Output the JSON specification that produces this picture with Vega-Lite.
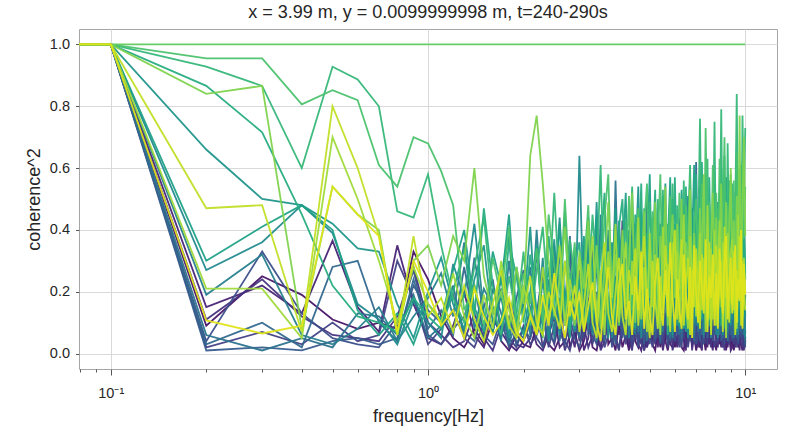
{
  "$schema": "https://vega.github.io/schema/vega-lite/v6.json",
  "autosize": {"type": "none"},
  "width": 698,
  "height": 340,
  "padding": {"left": 79, "top": 29, "right": 10, "bottom": 62},
  "background": "white",
  "config": {
    "font": "Liberation Sans",
    "view": {"stroke": "#a6a6a6", "strokeWidth": 1}
  },
  "title": {
    "text": "x = 3.99 m, y = 0.0099999998 m, t=240-290s",
    "fontSize": 18,
    "fontWeight": "normal",
    "color": "#262626",
    "font": "Liberation Sans",
    "offset": 7
  },
  "data": {"values": [
{"s":0,"f":0.05,"c":1},{"s":0,"f":0.1,"c":1},{"s":0,"f":0.2,"c":0.09},{"s":0,"f":0.3,"c":0.25},{"s":0,"f":0.4,"c":0.19},{"s":0,"f":0.5,"c":0.11},{"s":0,"f":0.6,"c":0.08},{"s":0,"f":0.7,"c":0.1},{"s":0,"f":0.8,"c":0.08},{"s":0,"f":0.9,"c":0.33},{"s":0,"f":1,"c":0.24},
{"s":0,"f":1.1,"c":0.12},{"s":0,"f":1.2,"c":0.05},{"s":0,"f":1.3,"c":0.02},{"s":0,"f":1.4,"c":0.08},{"s":0,"f":1.5,"c":0.03},{"s":0,"f":1.6,"c":0.15},{"s":0,"f":1.7,"c":0.04},{"s":0,"f":1.8,"c":0.01},{"s":0,"f":1.9,"c":0.06},{"s":0,"f":2,"c":0.03},
{"s":0,"f":2.1,"c":0.02},{"s":0,"f":2.2,"c":0.09},{"s":0,"f":2.3,"c":0.14},{"s":0,"f":2.4,"c":0.03},{"s":0,"f":2.5,"c":0.01},{"s":0,"f":2.6,"c":0.05},{"s":0,"f":2.7,"c":0.18},{"s":0,"f":2.8,"c":0.02},{"s":0,"f":2.9,"c":0.07},{"s":0,"f":3,"c":0.01},
{"s":0,"f":3.1,"c":0.04},{"s":0,"f":3.2,"c":0.12},{"s":0,"f":3.3,"c":0.02},{"s":0,"f":3.4,"c":0.01},{"s":0,"f":3.5,"c":0.08},{"s":0,"f":3.6,"c":0.22},{"s":0,"f":3.7,"c":0.03},{"s":0,"f":3.8,"c":0.05},{"s":0,"f":3.9,"c":0.01},{"s":0,"f":4,"c":0.1},
{"s":0,"f":4.1,"c":0.02},{"s":0,"f":4.2,"c":0.06},{"s":0,"f":4.3,"c":0.01},{"s":0,"f":4.4,"c":0.15},{"s":0,"f":4.5,"c":0.04},{"s":0,"f":4.6,"c":0.02},{"s":0,"f":4.7,"c":0.09},{"s":0,"f":4.8,"c":0.01},{"s":0,"f":4.9,"c":0.05},{"s":0,"f":5,"c":0.13},
{"s":0,"f":5.1,"c":0.03},{"s":0,"f":5.2,"c":0.01},{"s":0,"f":5.3,"c":0.07},{"s":0,"f":5.4,"c":0.02},{"s":0,"f":5.5,"c":0.11},{"s":0,"f":5.6,"c":0.04},{"s":0,"f":5.7,"c":0.01},{"s":0,"f":5.8,"c":0.06},{"s":0,"f":5.9,"c":0.18},{"s":0,"f":6,"c":0.02},
{"s":0,"f":6.1,"c":0.05},{"s":0,"f":6.2,"c":0.09},{"s":0,"f":6.3,"c":0.02},{"s":0,"f":6.4,"c":0.01},{"s":0,"f":6.5,"c":0.08},{"s":0,"f":6.6,"c":0.03},{"s":0,"f":6.7,"c":0.14},{"s":0,"f":6.8,"c":0.02},{"s":0,"f":6.9,"c":0.06},{"s":0,"f":7,"c":0.01},
{"s":0,"f":7.1,"c":0.04},{"s":0,"f":7.2,"c":0.02},{"s":0,"f":7.3,"c":0.1},{"s":0,"f":7.4,"c":0.05},{"s":0,"f":7.5,"c":0.01},{"s":0,"f":7.6,"c":0.07},{"s":0,"f":7.7,"c":0.03},{"s":0,"f":7.8,"c":0.16},{"s":0,"f":7.9,"c":0.02},{"s":0,"f":8,"c":0.04},
{"s":0,"f":8.1,"c":0.01},{"s":0,"f":8.2,"c":0.08},{"s":0,"f":8.3,"c":0.03},{"s":0,"f":8.4,"c":0.06},{"s":0,"f":8.5,"c":0.02},{"s":0,"f":8.6,"c":0.12},{"s":0,"f":8.7,"c":0.01},{"s":0,"f":8.8,"c":0.05},{"s":0,"f":8.9,"c":0.09},{"s":0,"f":9,"c":0.02},
{"s":0,"f":9.1,"c":0.06},{"s":0,"f":9.2,"c":0.01},{"s":0,"f":9.3,"c":0.04},{"s":0,"f":9.4,"c":0.11},{"s":0,"f":9.5,"c":0.02},{"s":0,"f":9.6,"c":0.07},{"s":0,"f":9.7,"c":0.03},{"s":0,"f":9.8,"c":0.01},{"s":0,"f":9.9,"c":0.08},{"s":0,"f":10,"c":0.05},

{"s":1,"f":0.05,"c":1},{"s":1,"f":0.1,"c":1},{"s":1,"f":0.2,"c":0.15},{"s":1,"f":0.3,"c":0.22},{"s":1,"f":0.4,"c":0.13},{"s":1,"f":0.5,"c":0.365},{"s":1,"f":0.6,"c":0.15},{"s":1,"f":0.7,"c":0.07},{"s":1,"f":0.8,"c":0.35},{"s":1,"f":0.9,"c":0.16},{"s":1,"f":1,"c":0.05},
{"s":1,"f":1.1,"c":0.03},{"s":1,"f":1.2,"c":0.09},{"s":1,"f":1.3,"c":0.2},{"s":1,"f":1.4,"c":0.06},{"s":1,"f":1.5,"c":0.02},{"s":1,"f":1.6,"c":0.11},{"s":1,"f":1.7,"c":0.07},{"s":1,"f":1.8,"c":0.03},{"s":1,"f":1.9,"c":0.01},{"s":1,"f":2,"c":0.04},
{"s":1,"f":2.1,"c":0.1},{"s":1,"f":2.2,"c":0.03},{"s":1,"f":2.3,"c":0.01},{"s":1,"f":2.4,"c":0.06},{"s":1,"f":2.5,"c":0.12},{"s":1,"f":2.6,"c":0.02},{"s":1,"f":2.7,"c":0.04},{"s":1,"f":2.8,"c":0.09},{"s":1,"f":2.9,"c":0.02},{"s":1,"f":3,"c":0.15},
{"s":1,"f":3.1,"c":0.01},{"s":1,"f":3.2,"c":0.05},{"s":1,"f":3.3,"c":0.19},{"s":1,"f":3.4,"c":0.04},{"s":1,"f":3.5,"c":0.02},{"s":1,"f":3.6,"c":0.07},{"s":1,"f":3.7,"c":0.13},{"s":1,"f":3.8,"c":0.03},{"s":1,"f":3.9,"c":0.25},{"s":1,"f":4,"c":0.06},
{"s":1,"f":4.1,"c":0.43},{"s":1,"f":4.2,"c":0.08},{"s":1,"f":4.3,"c":0.02},{"s":1,"f":4.4,"c":0.05},{"s":1,"f":4.5,"c":0.12},{"s":1,"f":4.6,"c":0.03},{"s":1,"f":4.7,"c":0.01},{"s":1,"f":4.8,"c":0.07},{"s":1,"f":4.9,"c":0.02},{"s":1,"f":5,"c":0.1},
{"s":1,"f":5.1,"c":0.04},{"s":1,"f":5.2,"c":0.15},{"s":1,"f":5.3,"c":0.02},{"s":1,"f":5.4,"c":0.09},{"s":1,"f":5.5,"c":0.01},{"s":1,"f":5.6,"c":0.06},{"s":1,"f":5.7,"c":0.21},{"s":1,"f":5.8,"c":0.03},{"s":1,"f":5.9,"c":0.02},{"s":1,"f":6,"c":0.08},
{"s":1,"f":6.1,"c":0.02},{"s":1,"f":6.2,"c":0.05},{"s":1,"f":6.3,"c":0.13},{"s":1,"f":6.4,"c":0.04},{"s":1,"f":6.5,"c":0.01},{"s":1,"f":6.6,"c":0.17},{"s":1,"f":6.7,"c":0.06},{"s":1,"f":6.8,"c":0.03},{"s":1,"f":6.9,"c":0.1},{"s":1,"f":7,"c":0.02},
{"s":1,"f":7.1,"c":0.08},{"s":1,"f":7.2,"c":0.03},{"s":1,"f":7.3,"c":0.01},{"s":1,"f":7.4,"c":0.12},{"s":1,"f":7.5,"c":0.06},{"s":1,"f":7.6,"c":0.02},{"s":1,"f":7.7,"c":0.09},{"s":1,"f":7.8,"c":0.04},{"s":1,"f":7.9,"c":0.01},{"s":1,"f":8,"c":0.14},
{"s":1,"f":8.1,"c":0.03},{"s":1,"f":8.2,"c":0.11},{"s":1,"f":8.3,"c":0.05},{"s":1,"f":8.4,"c":0.02},{"s":1,"f":8.5,"c":0.15},{"s":1,"f":8.6,"c":0.04},{"s":1,"f":8.7,"c":0.08},{"s":1,"f":8.8,"c":0.02},{"s":1,"f":8.9,"c":0.06},{"s":1,"f":9,"c":0.01},
{"s":1,"f":9.1,"c":0.02},{"s":1,"f":9.2,"c":0.09},{"s":1,"f":9.3,"c":0.13},{"s":1,"f":9.4,"c":0.03},{"s":1,"f":9.5,"c":0.05},{"s":1,"f":9.6,"c":0.01},{"s":1,"f":9.7,"c":0.1},{"s":1,"f":9.8,"c":0.04},{"s":1,"f":9.9,"c":0.02},{"s":1,"f":10,"c":0.07},

{"s":2,"f":0.05,"c":1},{"s":2,"f":0.1,"c":1},{"s":2,"f":0.2,"c":0.11},{"s":2,"f":0.3,"c":0.24},{"s":2,"f":0.4,"c":0.12},{"s":2,"f":0.5,"c":0.06},{"s":2,"f":0.6,"c":0.05},{"s":2,"f":0.7,"c":0.04},{"s":2,"f":0.8,"c":0.12},{"s":2,"f":0.9,"c":0.28},{"s":2,"f":1,"c":0.1},
{"s":2,"f":1.1,"c":0.06},{"s":2,"f":1.2,"c":0.02},{"s":2,"f":1.3,"c":0.04},{"s":2,"f":1.4,"c":0.13},{"s":2,"f":1.5,"c":0.05},{"s":2,"f":1.6,"c":0.01},{"s":2,"f":1.7,"c":0.09},{"s":2,"f":1.8,"c":0.17},{"s":2,"f":1.9,"c":0.03},{"s":2,"f":2,"c":0.02},
{"s":2,"f":2.1,"c":0.05},{"s":2,"f":2.2,"c":0.15},{"s":2,"f":2.3,"c":0.02},{"s":2,"f":2.4,"c":0.08},{"s":2,"f":2.5,"c":0.03},{"s":2,"f":2.6,"c":0.11},{"s":2,"f":2.7,"c":0.01},{"s":2,"f":2.8,"c":0.06},{"s":2,"f":2.9,"c":0.2},{"s":2,"f":3,"c":0.04},
{"s":2,"f":3.1,"c":0.09},{"s":2,"f":3.2,"c":0.02},{"s":2,"f":3.3,"c":0.06},{"s":2,"f":3.4,"c":0.14},{"s":2,"f":3.5,"c":0.01},{"s":2,"f":3.6,"c":0.04},{"s":2,"f":3.7,"c":0.1},{"s":2,"f":3.8,"c":0.33},{"s":2,"f":3.9,"c":0.05},{"s":2,"f":4,"c":0.02},
{"s":2,"f":4.1,"c":0.07},{"s":2,"f":4.2,"c":0.12},{"s":2,"f":4.3,"c":0.04},{"s":2,"f":4.4,"c":0.01},{"s":2,"f":4.5,"c":0.19},{"s":2,"f":4.6,"c":0.06},{"s":2,"f":4.7,"c":0.03},{"s":2,"f":4.8,"c":0.11},{"s":2,"f":4.9,"c":0.02},{"s":2,"f":5,"c":0.05},
{"s":2,"f":5.1,"c":0.1},{"s":2,"f":5.2,"c":0.03},{"s":2,"f":5.3,"c":0.14},{"s":2,"f":5.4,"c":0.05},{"s":2,"f":5.5,"c":0.02},{"s":2,"f":5.6,"c":0.09},{"s":2,"f":5.7,"c":0.04},{"s":2,"f":5.8,"c":0.12},{"s":2,"f":5.9,"c":0.01},{"s":2,"f":6,"c":0.06},
{"s":2,"f":6.1,"c":0.03},{"s":2,"f":6.2,"c":0.16},{"s":2,"f":6.3,"c":0.06},{"s":2,"f":6.4,"c":0.09},{"s":2,"f":6.5,"c":0.02},{"s":2,"f":6.6,"c":0.05},{"s":2,"f":6.7,"c":0.11},{"s":2,"f":6.8,"c":0.01},{"s":2,"f":6.9,"c":0.08},{"s":2,"f":7,"c":0.13},
{"s":2,"f":7.1,"c":0.02},{"s":2,"f":7.2,"c":0.07},{"s":2,"f":7.3,"c":0.04},{"s":2,"f":7.4,"c":0.19},{"s":2,"f":7.5,"c":0.03},{"s":2,"f":7.6,"c":0.1},{"s":2,"f":7.7,"c":0.05},{"s":2,"f":7.8,"c":0.02},{"s":2,"f":7.9,"c":0.12},{"s":2,"f":8,"c":0.06},
{"s":2,"f":8.1,"c":0.09},{"s":2,"f":8.2,"c":0.02},{"s":2,"f":8.3,"c":0.14},{"s":2,"f":8.4,"c":0.04},{"s":2,"f":8.5,"c":0.07},{"s":2,"f":8.6,"c":0.01},{"s":2,"f":8.7,"c":0.1},{"s":2,"f":8.8,"c":0.03},{"s":2,"f":8.9,"c":0.16},{"s":2,"f":9,"c":0.04},
{"s":2,"f":9.1,"c":0.05},{"s":2,"f":9.2,"c":0.12},{"s":2,"f":9.3,"c":0.02},{"s":2,"f":9.4,"c":0.08},{"s":2,"f":9.5,"c":0.15},{"s":2,"f":9.6,"c":0.03},{"s":2,"f":9.7,"c":0.06},{"s":2,"f":9.8,"c":0.11},{"s":2,"f":9.9,"c":0.01},{"s":2,"f":10,"c":0.04},

{"s":3,"f":0.05,"c":1},{"s":3,"f":0.1,"c":1},{"s":3,"f":0.2,"c":0.02},{"s":3,"f":0.3,"c":0.07},{"s":3,"f":0.4,"c":0.03},{"s":3,"f":0.5,"c":0.1},{"s":3,"f":0.6,"c":0.04},{"s":3,"f":0.7,"c":0.06},{"s":3,"f":0.8,"c":0.3},{"s":3,"f":0.9,"c":0.18},{"s":3,"f":1,"c":0.03},
{"s":3,"f":1.1,"c":0.08},{"s":3,"f":1.2,"c":0.14},{"s":3,"f":1.3,"c":0.05},{"s":3,"f":1.4,"c":0.02},{"s":3,"f":1.5,"c":0.1},{"s":3,"f":1.6,"c":0.07},{"s":3,"f":1.7,"c":0.21},{"s":3,"f":1.8,"c":0.05},{"s":3,"f":1.9,"c":0.02},{"s":3,"f":2,"c":0.09},
{"s":3,"f":2.1,"c":0.03},{"s":3,"f":2.2,"c":0.06},{"s":3,"f":2.3,"c":0.12},{"s":3,"f":2.4,"c":0.02},{"s":3,"f":2.5,"c":0.09},{"s":3,"f":2.6,"c":0.16},{"s":3,"f":2.7,"c":0.04},{"s":3,"f":2.8,"c":0.01},{"s":3,"f":2.9,"c":0.08},{"s":3,"f":3,"c":0.27},
{"s":3,"f":3.1,"c":0.05},{"s":3,"f":3.2,"c":0.18},{"s":3,"f":3.3,"c":0.03},{"s":3,"f":3.4,"c":0.09},{"s":3,"f":3.5,"c":0.12},{"s":3,"f":3.6,"c":0.02},{"s":3,"f":3.7,"c":0.06},{"s":3,"f":3.8,"c":0.15},{"s":3,"f":3.9,"c":0.04},{"s":3,"f":4,"c":0.01},
{"s":3,"f":4.1,"c":0.12},{"s":3,"f":4.2,"c":0.03},{"s":3,"f":4.3,"c":0.08},{"s":3,"f":4.4,"c":0.02},{"s":3,"f":4.5,"c":0.06},{"s":3,"f":4.6,"c":0.22},{"s":3,"f":4.7,"c":0.04},{"s":3,"f":4.8,"c":0.01},{"s":3,"f":4.9,"c":0.13},{"s":3,"f":5,"c":0.07},
{"s":3,"f":5.1,"c":0.02},{"s":3,"f":5.2,"c":0.09},{"s":3,"f":5.3,"c":0.05},{"s":3,"f":5.4,"c":0.16},{"s":3,"f":5.5,"c":0.03},{"s":3,"f":5.6,"c":0.11},{"s":3,"f":5.7,"c":0.02},{"s":3,"f":5.8,"c":0.07},{"s":3,"f":5.9,"c":0.04},{"s":3,"f":6,"c":0.2},
{"s":3,"f":6.1,"c":0.08},{"s":3,"f":6.2,"c":0.02},{"s":3,"f":6.3,"c":0.11},{"s":3,"f":6.4,"c":0.05},{"s":3,"f":6.5,"c":0.15},{"s":3,"f":6.6,"c":0.02},{"s":3,"f":6.7,"c":0.07},{"s":3,"f":6.8,"c":0.19},{"s":3,"f":6.9,"c":0.03},{"s":3,"f":7,"c":0.06},
{"s":3,"f":7.1,"c":0.12},{"s":3,"f":7.2,"c":0.05},{"s":3,"f":7.3,"c":0.02},{"s":3,"f":7.4,"c":0.08},{"s":3,"f":7.5,"c":0.14},{"s":3,"f":7.6,"c":0.03},{"s":3,"f":7.7,"c":0.21},{"s":3,"f":7.8,"c":0.06},{"s":3,"f":7.9,"c":0.09},{"s":3,"f":8,"c":0.02},
{"s":3,"f":8.1,"c":0.04},{"s":3,"f":8.2,"c":0.17},{"s":3,"f":8.3,"c":0.06},{"s":3,"f":8.4,"c":0.11},{"s":3,"f":8.5,"c":0.02},{"s":3,"f":8.6,"c":0.09},{"s":3,"f":8.7,"c":0.05},{"s":3,"f":8.8,"c":0.14},{"s":3,"f":8.9,"c":0.03},{"s":3,"f":9,"c":0.08},
{"s":3,"f":9.1,"c":0.1},{"s":3,"f":9.2,"c":0.03},{"s":3,"f":9.3,"c":0.07},{"s":3,"f":9.4,"c":0.02},{"s":3,"f":9.5,"c":0.12},{"s":3,"f":9.6,"c":0.06},{"s":3,"f":9.7,"c":0.17},{"s":3,"f":9.8,"c":0.02},{"s":3,"f":9.9,"c":0.09},{"s":3,"f":10,"c":0.05},

{"s":4,"f":0.05,"c":1},{"s":4,"f":0.1,"c":1},{"s":4,"f":0.2,"c":0.04},{"s":4,"f":0.3,"c":0.33},{"s":4,"f":0.4,"c":0.13},{"s":4,"f":0.5,"c":0.05},{"s":4,"f":0.6,"c":0.03},{"s":4,"f":0.7,"c":0.02},{"s":4,"f":0.8,"c":0.1},{"s":4,"f":0.9,"c":0.27},{"s":4,"f":1,"c":0.06},
{"s":4,"f":1.1,"c":0.03},{"s":4,"f":1.2,"c":0.08},{"s":4,"f":1.3,"c":0.12},{"s":4,"f":1.4,"c":0.22},{"s":4,"f":1.5,"c":0.06},{"s":4,"f":1.6,"c":0.03},{"s":4,"f":1.7,"c":0.11},{"s":4,"f":1.8,"c":0.02},{"s":4,"f":1.9,"c":0.07},{"s":4,"f":2,"c":0.05},
{"s":4,"f":2.1,"c":0.14},{"s":4,"f":2.2,"c":0.05},{"s":4,"f":2.3,"c":0.02},{"s":4,"f":2.4,"c":0.1},{"s":4,"f":2.5,"c":0.3},{"s":4,"f":2.6,"c":0.07},{"s":4,"f":2.7,"c":0.03},{"s":4,"f":2.8,"c":0.12},{"s":4,"f":2.9,"c":0.05},{"s":4,"f":3,"c":0.02},
{"s":4,"f":3.1,"c":0.08},{"s":4,"f":3.2,"c":0.24},{"s":4,"f":3.3,"c":0.06},{"s":4,"f":3.4,"c":0.03},{"s":4,"f":3.5,"c":0.13},{"s":4,"f":3.6,"c":0.05},{"s":4,"f":3.7,"c":0.18},{"s":4,"f":3.8,"c":0.02},{"s":4,"f":3.9,"c":0.09},{"s":4,"f":4,"c":0.14},
{"s":4,"f":4.1,"c":0.05},{"s":4,"f":4.2,"c":0.1},{"s":4,"f":4.3,"c":0.27},{"s":4,"f":4.4,"c":0.04},{"s":4,"f":4.5,"c":0.09},{"s":4,"f":4.6,"c":0.02},{"s":4,"f":4.7,"c":0.16},{"s":4,"f":4.8,"c":0.06},{"s":4,"f":4.9,"c":0.23},{"s":4,"f":5,"c":0.03},
{"s":4,"f":5.1,"c":0.11},{"s":4,"f":5.2,"c":0.04},{"s":4,"f":5.3,"c":0.08},{"s":4,"f":5.4,"c":0.2},{"s":4,"f":5.5,"c":0.06},{"s":4,"f":5.6,"c":0.13},{"s":4,"f":5.7,"c":0.03},{"s":4,"f":5.8,"c":0.26},{"s":4,"f":5.9,"c":0.07},{"s":4,"f":6,"c":0.04},
{"s":4,"f":6.1,"c":0.17},{"s":4,"f":6.2,"c":0.06},{"s":4,"f":6.3,"c":0.02},{"s":4,"f":6.4,"c":0.12},{"s":4,"f":6.5,"c":0.07},{"s":4,"f":6.6,"c":0.24},{"s":4,"f":6.7,"c":0.04},{"s":4,"f":6.8,"c":0.09},{"s":4,"f":6.9,"c":0.15},{"s":4,"f":7,"c":0.03},
{"s":4,"f":7.1,"c":0.06},{"s":4,"f":7.2,"c":0.22},{"s":4,"f":7.3,"c":0.09},{"s":4,"f":7.4,"c":0.03},{"s":4,"f":7.5,"c":0.18},{"s":4,"f":7.6,"c":0.05},{"s":4,"f":7.7,"c":0.11},{"s":4,"f":7.8,"c":0.28},{"s":4,"f":7.9,"c":0.04},{"s":4,"f":8,"c":0.13},
{"s":4,"f":8.1,"c":0.2},{"s":4,"f":8.2,"c":0.04},{"s":4,"f":8.3,"c":0.12},{"s":4,"f":8.4,"c":0.07},{"s":4,"f":8.5,"c":0.25},{"s":4,"f":8.6,"c":0.03},{"s":4,"f":8.7,"c":0.15},{"s":4,"f":8.8,"c":0.06},{"s":4,"f":8.9,"c":0.1},{"s":4,"f":9,"c":0.32},
{"s":4,"f":9.1,"c":0.04},{"s":4,"f":9.2,"c":0.14},{"s":4,"f":9.3,"c":0.06},{"s":4,"f":9.4,"c":0.21},{"s":4,"f":9.5,"c":0.03},{"s":4,"f":9.6,"c":0.11},{"s":4,"f":9.7,"c":0.05},{"s":4,"f":9.8,"c":0.18},{"s":4,"f":9.9,"c":0.08},{"s":4,"f":10,"c":0.02},

{"s":5,"f":0.05,"c":1},{"s":5,"f":0.1,"c":1},{"s":5,"f":0.2,"c":0.01},{"s":5,"f":0.3,"c":0.02},{"s":5,"f":0.4,"c":0.01},{"s":5,"f":0.5,"c":0.04},{"s":5,"f":0.6,"c":0.05},{"s":5,"f":0.7,"c":0.03},{"s":5,"f":0.8,"c":0.05},{"s":5,"f":0.9,"c":0.22},{"s":5,"f":1,"c":0.14},
{"s":5,"f":1.1,"c":0.1},{"s":5,"f":1.2,"c":0.19},{"s":5,"f":1.3,"c":0.07},{"s":5,"f":1.4,"c":0.04},{"s":5,"f":1.5,"c":0.15},{"s":5,"f":1.6,"c":0.24},{"s":5,"f":1.7,"c":0.06},{"s":5,"f":1.8,"c":0.12},{"s":5,"f":1.9,"c":0.03},{"s":5,"f":2,"c":0.08},
{"s":5,"f":2.1,"c":0.05},{"s":5,"f":2.2,"c":0.13},{"s":5,"f":2.3,"c":0.26},{"s":5,"f":2.4,"c":0.06},{"s":5,"f":2.5,"c":0.04},{"s":5,"f":2.6,"c":0.18},{"s":5,"f":2.7,"c":0.09},{"s":5,"f":2.8,"c":0.33},{"s":5,"f":2.9,"c":0.07},{"s":5,"f":3,"c":0.12},
{"s":5,"f":3.1,"c":0.3},{"s":5,"f":3.2,"c":0.06},{"s":5,"f":3.3,"c":0.11},{"s":5,"f":3.4,"c":0.2},{"s":5,"f":3.5,"c":0.04},{"s":5,"f":3.6,"c":0.27},{"s":5,"f":3.7,"c":0.08},{"s":5,"f":3.8,"c":0.13},{"s":5,"f":3.9,"c":0.03},{"s":5,"f":4,"c":0.19},
{"s":5,"f":4.1,"c":0.07},{"s":5,"f":4.2,"c":0.25},{"s":5,"f":4.3,"c":0.05},{"s":5,"f":4.4,"c":0.14},{"s":5,"f":4.5,"c":0.31},{"s":5,"f":4.6,"c":0.06},{"s":5,"f":4.7,"c":0.1},{"s":5,"f":4.8,"c":0.03},{"s":5,"f":4.9,"c":0.18},{"s":5,"f":5,"c":0.08},
{"s":5,"f":5.1,"c":0.22},{"s":5,"f":5.2,"c":0.05},{"s":5,"f":5.3,"c":0.12},{"s":5,"f":5.4,"c":0.03},{"s":5,"f":5.5,"c":0.28},{"s":5,"f":5.6,"c":0.09},{"s":5,"f":5.7,"c":0.16},{"s":5,"f":5.8,"c":0.04},{"s":5,"f":5.9,"c":0.11},{"s":5,"f":6,"c":0.33},
{"s":5,"f":6.1,"c":0.06},{"s":5,"f":6.2,"c":0.19},{"s":5,"f":6.3,"c":0.04},{"s":5,"f":6.4,"c":0.27},{"s":5,"f":6.5,"c":0.08},{"s":5,"f":6.6,"c":0.14},{"s":5,"f":6.7,"c":0.36},{"s":5,"f":6.8,"c":0.05},{"s":5,"f":6.9,"c":0.12},{"s":5,"f":7,"c":0.21},
{"s":5,"f":7.1,"c":0.1},{"s":5,"f":7.2,"c":0.04},{"s":5,"f":7.3,"c":0.25},{"s":5,"f":7.4,"c":0.07},{"s":5,"f":7.5,"c":0.33},{"s":5,"f":7.6,"c":0.05},{"s":5,"f":7.7,"c":0.15},{"s":5,"f":7.8,"c":0.09},{"s":5,"f":7.9,"c":0.3},{"s":5,"f":8,"c":0.06},
{"s":5,"f":8.1,"c":0.18},{"s":5,"f":8.2,"c":0.07},{"s":5,"f":8.3,"c":0.29},{"s":5,"f":8.4,"c":0.04},{"s":5,"f":8.5,"c":0.13},{"s":5,"f":8.6,"c":0.38},{"s":5,"f":8.7,"c":0.06},{"s":5,"f":8.8,"c":0.22},{"s":5,"f":8.9,"c":0.08},{"s":5,"f":9,"c":0.15},
{"s":5,"f":9.1,"c":0.05},{"s":5,"f":9.2,"c":0.27},{"s":5,"f":9.3,"c":0.09},{"s":5,"f":9.4,"c":0.16},{"s":5,"f":9.5,"c":0.04},{"s":5,"f":9.6,"c":0.31},{"s":5,"f":9.7,"c":0.12},{"s":5,"f":9.8,"c":0.06},{"s":5,"f":9.9,"c":0.24},{"s":5,"f":10,"c":0.03},

{"s":6,"f":0.05,"c":1},{"s":6,"f":0.1,"c":1},{"s":6,"f":0.2,"c":0.03},{"s":6,"f":0.3,"c":0.1},{"s":6,"f":0.4,"c":0.02},{"s":6,"f":0.5,"c":0.28},{"s":6,"f":0.6,"c":0.3},{"s":6,"f":0.7,"c":0.1},{"s":6,"f":0.8,"c":0.04},{"s":6,"f":0.9,"c":0.24},{"s":6,"f":1,"c":0.08},
{"s":6,"f":1.1,"c":0.14},{"s":6,"f":1.2,"c":0.06},{"s":6,"f":1.3,"c":0.28},{"s":6,"f":1.4,"c":0.1},{"s":6,"f":1.5,"c":0.05},{"s":6,"f":1.6,"c":0.21},{"s":6,"f":1.7,"c":0.13},{"s":6,"f":1.8,"c":0.04},{"s":6,"f":1.9,"c":0.18},{"s":6,"f":2,"c":0.27},
{"s":6,"f":2.1,"c":0.09},{"s":6,"f":2.2,"c":0.33},{"s":6,"f":2.3,"c":0.12},{"s":6,"f":2.4,"c":0.04},{"s":6,"f":2.5,"c":0.22},{"s":6,"f":2.6,"c":0.07},{"s":6,"f":2.7,"c":0.15},{"s":6,"f":2.8,"c":0.38},{"s":6,"f":2.9,"c":0.1},{"s":6,"f":3,"c":0.05},
{"s":6,"f":3.1,"c":0.21},{"s":6,"f":3.2,"c":0.12},{"s":6,"f":3.3,"c":0.35},{"s":6,"f":3.4,"c":0.07},{"s":6,"f":3.5,"c":0.16},{"s":6,"f":3.6,"c":0.04},{"s":6,"f":3.7,"c":0.28},{"s":6,"f":3.8,"c":0.11},{"s":6,"f":3.9,"c":0.42},{"s":6,"f":4,"c":0.09},
{"s":6,"f":4.1,"c":0.13},{"s":6,"f":4.2,"c":0.05},{"s":6,"f":4.3,"c":0.24},{"s":6,"f":4.4,"c":0.38},{"s":6,"f":4.5,"c":0.08},{"s":6,"f":4.6,"c":0.17},{"s":6,"f":4.7,"c":0.45},{"s":6,"f":4.8,"c":0.06},{"s":6,"f":4.9,"c":0.22},{"s":6,"f":5,"c":0.11},
{"s":6,"f":5.1,"c":0.32},{"s":6,"f":5.2,"c":0.07},{"s":6,"f":5.3,"c":0.19},{"s":6,"f":5.4,"c":0.04},{"s":6,"f":5.5,"c":0.27},{"s":6,"f":5.6,"c":0.4},{"s":6,"f":5.7,"c":0.09},{"s":6,"f":5.8,"c":0.15},{"s":6,"f":5.9,"c":0.06},{"s":6,"f":6,"c":0.34},
{"s":6,"f":6.1,"c":0.1},{"s":6,"f":6.2,"c":0.25},{"s":6,"f":6.3,"c":0.05},{"s":6,"f":6.4,"c":0.37},{"s":6,"f":6.5,"c":0.13},{"s":6,"f":6.6,"c":0.07},{"s":6,"f":6.7,"c":0.29},{"s":6,"f":6.8,"c":0.18},{"s":6,"f":6.9,"c":0.04},{"s":6,"f":7,"c":0.62},
{"s":6,"f":7.1,"c":0.12},{"s":6,"f":7.2,"c":0.3},{"s":6,"f":7.3,"c":0.06},{"s":6,"f":7.4,"c":0.21},{"s":6,"f":7.5,"c":0.44},{"s":6,"f":7.6,"c":0.08},{"s":6,"f":7.7,"c":0.16},{"s":6,"f":7.8,"c":0.05},{"s":6,"f":7.9,"c":0.35},{"s":6,"f":8,"c":0.11},
{"s":6,"f":8.1,"c":0.24},{"s":6,"f":8.2,"c":0.07},{"s":6,"f":8.3,"c":0.39},{"s":6,"f":8.4,"c":0.13},{"s":6,"f":8.5,"c":0.05},{"s":6,"f":8.6,"c":0.28},{"s":6,"f":8.7,"c":0.48},{"s":6,"f":8.8,"c":0.09},{"s":6,"f":8.9,"c":0.17},{"s":6,"f":9,"c":0.06},
{"s":6,"f":9.1,"c":0.31},{"s":6,"f":9.2,"c":0.1},{"s":6,"f":9.3,"c":0.22},{"s":6,"f":9.4,"c":0.05},{"s":6,"f":9.5,"c":0.36},{"s":6,"f":9.6,"c":0.14},{"s":6,"f":9.7,"c":0.07},{"s":6,"f":9.8,"c":0.26},{"s":6,"f":9.9,"c":0.09},{"s":6,"f":10,"c":0.04},

{"s":7,"f":0.05,"c":1},{"s":7,"f":0.1,"c":1},{"s":7,"f":0.2,"c":0.06},{"s":7,"f":0.3,"c":0.01},{"s":7,"f":0.4,"c":0.05},{"s":7,"f":0.5,"c":0.02},{"s":7,"f":0.6,"c":0.13},{"s":7,"f":0.7,"c":0.12},{"s":7,"f":0.8,"c":0.06},{"s":7,"f":0.9,"c":0.19},{"s":7,"f":1,"c":0.05},
{"s":7,"f":1.1,"c":0.09},{"s":7,"f":1.2,"c":0.22},{"s":7,"f":1.3,"c":0.05},{"s":7,"f":1.4,"c":0.31},{"s":7,"f":1.5,"c":0.12},{"s":7,"f":1.6,"c":0.07},{"s":7,"f":1.7,"c":0.19},{"s":7,"f":1.8,"c":0.03},{"s":7,"f":1.9,"c":0.11},{"s":7,"f":2,"c":0.16},
{"s":7,"f":2.1,"c":0.28},{"s":7,"f":2.2,"c":0.06},{"s":7,"f":2.3,"c":0.14},{"s":7,"f":2.4,"c":0.09},{"s":7,"f":2.5,"c":0.35},{"s":7,"f":2.6,"c":0.04},{"s":7,"f":2.7,"c":0.2},{"s":7,"f":2.8,"c":0.08},{"s":7,"f":2.9,"c":0.31},{"s":7,"f":3,"c":0.13},
{"s":7,"f":3.1,"c":0.07},{"s":7,"f":3.2,"c":0.26},{"s":7,"f":3.3,"c":0.1},{"s":7,"f":3.4,"c":0.41},{"s":7,"f":3.5,"c":0.05},{"s":7,"f":3.6,"c":0.18},{"s":7,"f":3.7,"c":0.33},{"s":7,"f":3.8,"c":0.06},{"s":7,"f":3.9,"c":0.56},{"s":7,"f":4,"c":0.12},
{"s":7,"f":4.1,"c":0.23},{"s":7,"f":4.2,"c":0.08},{"s":7,"f":4.3,"c":0.37},{"s":7,"f":4.4,"c":0.14},{"s":7,"f":4.5,"c":0.06},{"s":7,"f":4.6,"c":0.29},{"s":7,"f":4.7,"c":0.1},{"s":7,"f":4.8,"c":0.21},{"s":7,"f":4.9,"c":0.04},{"s":7,"f":5,"c":0.33},
{"s":7,"f":5.1,"c":0.09},{"s":7,"f":5.2,"c":0.26},{"s":7,"f":5.3,"c":0.13},{"s":7,"f":5.4,"c":0.42},{"s":7,"f":5.5,"c":0.07},{"s":7,"f":5.6,"c":0.19},{"s":7,"f":5.7,"c":0.35},{"s":7,"f":5.8,"c":0.05},{"s":7,"f":5.9,"c":0.24},{"s":7,"f":6,"c":0.11},
{"s":7,"f":6.1,"c":0.38},{"s":7,"f":6.2,"c":0.06},{"s":7,"f":6.3,"c":0.22},{"s":7,"f":6.4,"c":0.12},{"s":7,"f":6.5,"c":0.47},{"s":7,"f":6.6,"c":0.08},{"s":7,"f":6.7,"c":0.17},{"s":7,"f":6.8,"c":0.3},{"s":7,"f":6.9,"c":0.06},{"s":7,"f":7,"c":0.25},
{"s":7,"f":7.1,"c":0.07},{"s":7,"f":7.2,"c":0.43},{"s":7,"f":7.3,"c":0.15},{"s":7,"f":7.4,"c":0.05},{"s":7,"f":7.5,"c":0.27},{"s":7,"f":7.6,"c":0.12},{"s":7,"f":7.7,"c":0.39},{"s":7,"f":7.8,"c":0.08},{"s":7,"f":7.9,"c":0.2},{"s":7,"f":8,"c":0.46},
{"s":7,"f":8.1,"c":0.13},{"s":7,"f":8.2,"c":0.32},{"s":7,"f":8.3,"c":0.06},{"s":7,"f":8.4,"c":0.24},{"s":7,"f":8.5,"c":0.41},{"s":7,"f":8.6,"c":0.09},{"s":7,"f":8.7,"c":0.18},{"s":7,"f":8.8,"c":0.04},{"s":7,"f":8.9,"c":0.35},{"s":7,"f":9,"c":0.11},
{"s":7,"f":9.1,"c":0.26},{"s":7,"f":9.2,"c":0.05},{"s":7,"f":9.3,"c":0.4},{"s":7,"f":9.4,"c":0.12},{"s":7,"f":9.5,"c":0.21},{"s":7,"f":9.6,"c":0.08},{"s":7,"f":9.7,"c":0.33},{"s":7,"f":9.8,"c":0.15},{"s":7,"f":9.9,"c":0.06},{"s":7,"f":10,"c":0.19},

{"s":8,"f":0.05,"c":1},{"s":8,"f":0.1,"c":1},{"s":8,"f":0.2,"c":0.19},{"s":8,"f":0.3,"c":0.32},{"s":8,"f":0.4,"c":0.06},{"s":8,"f":0.5,"c":0.03},{"s":8,"f":0.6,"c":0.08},{"s":8,"f":0.7,"c":0.15},{"s":8,"f":0.8,"c":0.04},{"s":8,"f":0.9,"c":0.12},{"s":8,"f":1,"c":0.18},
{"s":8,"f":1.1,"c":0.26},{"s":8,"f":1.2,"c":0.12},{"s":8,"f":1.3,"c":0.36},{"s":8,"f":1.4,"c":0.08},{"s":8,"f":1.5,"c":0.21},{"s":8,"f":1.6,"c":0.15},{"s":8,"f":1.7,"c":0.04},{"s":8,"f":1.8,"c":0.3},{"s":8,"f":1.9,"c":0.09},{"s":8,"f":2,"c":0.18},
{"s":8,"f":2.1,"c":0.06},{"s":8,"f":2.2,"c":0.4},{"s":8,"f":2.3,"c":0.11},{"s":8,"f":2.4,"c":0.24},{"s":8,"f":2.5,"c":0.05},{"s":8,"f":2.6,"c":0.33},{"s":8,"f":2.7,"c":0.16},{"s":8,"f":2.8,"c":0.07},{"s":8,"f":2.9,"c":0.27},{"s":8,"f":3,"c":0.1},
{"s":8,"f":3.1,"c":0.35},{"s":8,"f":3.2,"c":0.08},{"s":8,"f":3.3,"c":0.22},{"s":8,"f":3.4,"c":0.04},{"s":8,"f":3.5,"c":0.45},{"s":8,"f":3.6,"c":0.13},{"s":8,"f":3.7,"c":0.29},{"s":8,"f":3.8,"c":0.06},{"s":8,"f":3.9,"c":0.19},{"s":8,"f":4,"c":0.38},
{"s":8,"f":4.1,"c":0.1},{"s":8,"f":4.2,"c":0.31},{"s":8,"f":4.3,"c":0.05},{"s":8,"f":4.4,"c":0.2},{"s":8,"f":4.5,"c":0.42},{"s":8,"f":4.6,"c":0.07},{"s":8,"f":4.7,"c":0.26},{"s":8,"f":4.8,"c":0.13},{"s":8,"f":4.9,"c":0.49},{"s":8,"f":5,"c":0.08},
{"s":8,"f":5.1,"c":0.28},{"s":8,"f":5.2,"c":0.12},{"s":8,"f":5.3,"c":0.47},{"s":8,"f":5.4,"c":0.06},{"s":8,"f":5.5,"c":0.34},{"s":8,"f":5.6,"c":0.18},{"s":8,"f":5.7,"c":0.09},{"s":8,"f":5.8,"c":0.39},{"s":8,"f":5.9,"c":0.05},{"s":8,"f":6,"c":0.23},
{"s":8,"f":6.1,"c":0.15},{"s":8,"f":6.2,"c":0.44},{"s":8,"f":6.3,"c":0.07},{"s":8,"f":6.4,"c":0.29},{"s":8,"f":6.5,"c":0.11},{"s":8,"f":6.6,"c":0.51},{"s":8,"f":6.7,"c":0.06},{"s":8,"f":6.8,"c":0.22},{"s":8,"f":6.9,"c":0.36},{"s":8,"f":7,"c":0.09},
{"s":8,"f":7.1,"c":0.33},{"s":8,"f":7.2,"c":0.1},{"s":8,"f":7.3,"c":0.25},{"s":8,"f":7.4,"c":0.48},{"s":8,"f":7.5,"c":0.07},{"s":8,"f":7.6,"c":0.19},{"s":8,"f":7.7,"c":0.41},{"s":8,"f":7.8,"c":0.05},{"s":8,"f":7.9,"c":0.3},{"s":8,"f":8,"c":0.14},
{"s":8,"f":8.1,"c":0.06},{"s":8,"f":8.2,"c":0.37},{"s":8,"f":8.3,"c":0.16},{"s":8,"f":8.4,"c":0.09},{"s":8,"f":8.5,"c":0.55},{"s":8,"f":8.6,"c":0.12},{"s":8,"f":8.7,"c":0.28},{"s":8,"f":8.8,"c":0.07},{"s":8,"f":8.9,"c":0.43},{"s":8,"f":9,"c":0.18},
{"s":8,"f":9.1,"c":0.4},{"s":8,"f":9.2,"c":0.08},{"s":8,"f":9.3,"c":0.29},{"s":8,"f":9.4,"c":0.14},{"s":8,"f":9.5,"c":0.06},{"s":8,"f":9.6,"c":0.45},{"s":8,"f":9.7,"c":0.11},{"s":8,"f":9.8,"c":0.34},{"s":8,"f":9.9,"c":0.19},{"s":8,"f":10,"c":0.07},

{"s":9,"f":0.05,"c":1},{"s":9,"f":0.1,"c":1},{"s":9,"f":0.2,"c":0.27},{"s":9,"f":0.3,"c":0.36},{"s":9,"f":0.4,"c":0.48},{"s":9,"f":0.5,"c":0.39},{"s":9,"f":0.6,"c":0.16},{"s":9,"f":0.7,"c":0.11},{"s":9,"f":0.8,"c":0.03},{"s":9,"f":0.9,"c":0.17},{"s":9,"f":1,"c":0.1},
{"s":9,"f":1.1,"c":0.05},{"s":9,"f":1.2,"c":0.29},{"s":9,"f":1.3,"c":0.18},{"s":9,"f":1.4,"c":0.42},{"s":9,"f":1.5,"c":0.13},{"s":9,"f":1.6,"c":0.07},{"s":9,"f":1.7,"c":0.25},{"s":9,"f":1.8,"c":0.38},{"s":9,"f":1.9,"c":0.06},{"s":9,"f":2,"c":0.22},
{"s":9,"f":2.1,"c":0.15},{"s":9,"f":2.2,"c":0.08},{"s":9,"f":2.3,"c":0.31},{"s":9,"f":2.4,"c":0.04},{"s":9,"f":2.5,"c":0.19},{"s":9,"f":2.6,"c":0.44},{"s":9,"f":2.7,"c":0.1},{"s":9,"f":2.8,"c":0.26},{"s":9,"f":2.9,"c":0.07},{"s":9,"f":3,"c":0.64},
{"s":9,"f":3.1,"c":0.12},{"s":9,"f":3.2,"c":0.37},{"s":9,"f":3.3,"c":0.06},{"s":9,"f":3.4,"c":0.28},{"s":9,"f":3.5,"c":0.17},{"s":9,"f":3.6,"c":0.09},{"s":9,"f":3.7,"c":0.4},{"s":9,"f":3.8,"c":0.05},{"s":9,"f":3.9,"c":0.24},{"s":9,"f":4,"c":0.14},
{"s":9,"f":4.1,"c":0.34},{"s":9,"f":4.2,"c":0.07},{"s":9,"f":4.3,"c":0.19},{"s":9,"f":4.4,"c":0.46},{"s":9,"f":4.5,"c":0.11},{"s":9,"f":4.6,"c":0.3},{"s":9,"f":4.7,"c":0.05},{"s":9,"f":4.8,"c":0.38},{"s":9,"f":4.9,"c":0.16},{"s":9,"f":5,"c":0.27},
{"s":9,"f":5.1,"c":0.06},{"s":9,"f":5.2,"c":0.36},{"s":9,"f":5.3,"c":0.21},{"s":9,"f":5.4,"c":0.1},{"s":9,"f":5.5,"c":0.44},{"s":9,"f":5.6,"c":0.15},{"s":9,"f":5.7,"c":0.29},{"s":9,"f":5.8,"c":0.07},{"s":9,"f":5.9,"c":0.5},{"s":9,"f":6,"c":0.12},
{"s":9,"f":6.1,"c":0.31},{"s":9,"f":6.2,"c":0.08},{"s":9,"f":6.3,"c":0.4},{"s":9,"f":6.4,"c":0.16},{"s":9,"f":6.5,"c":0.26},{"s":9,"f":6.6,"c":0.05},{"s":9,"f":6.7,"c":0.35},{"s":9,"f":6.8,"c":0.47},{"s":9,"f":6.9,"c":0.1},{"s":9,"f":7,"c":0.2},
{"s":9,"f":7.1,"c":0.09},{"s":9,"f":7.2,"c":0.28},{"s":9,"f":7.3,"c":0.37},{"s":9,"f":7.4,"c":0.06},{"s":9,"f":7.5,"c":0.52},{"s":9,"f":7.6,"c":0.14},{"s":9,"f":7.7,"c":0.24},{"s":9,"f":7.8,"c":0.07},{"s":9,"f":7.9,"c":0.42},{"s":9,"f":8,"c":0.18},
{"s":9,"f":8.1,"c":0.29},{"s":9,"f":8.2,"c":0.05},{"s":9,"f":8.3,"c":0.21},{"s":9,"f":8.4,"c":0.45},{"s":9,"f":8.5,"c":0.12},{"s":9,"f":8.6,"c":0.34},{"s":9,"f":8.7,"c":0.08},{"s":9,"f":8.8,"c":0.5},{"s":9,"f":8.9,"c":0.16},{"s":9,"f":9,"c":0.27},
{"s":9,"f":9.1,"c":0.11},{"s":9,"f":9.2,"c":0.38},{"s":9,"f":9.3,"c":0.06},{"s":9,"f":9.4,"c":0.3},{"s":9,"f":9.5,"c":0.49},{"s":9,"f":9.6,"c":0.09},{"s":9,"f":9.7,"c":0.23},{"s":9,"f":9.8,"c":0.41},{"s":9,"f":9.9,"c":0.13},{"s":9,"f":10,"c":0.05},

{"s":10,"f":0.05,"c":1},{"s":10,"f":0.1,"c":1},{"s":10,"f":0.2,"c":0.66},{"s":10,"f":0.3,"c":0.5},{"s":10,"f":0.4,"c":0.48},{"s":10,"f":0.5,"c":0.42},{"s":10,"f":0.6,"c":0.34},{"s":10,"f":0.7,"c":0.33},{"s":10,"f":0.8,"c":0.16},{"s":10,"f":0.9,"c":0.05},{"s":10,"f":1,"c":0.2},
{"s":10,"f":1.1,"c":0.31},{"s":10,"f":1.2,"c":0.16},{"s":10,"f":1.3,"c":0.08},{"s":10,"f":1.4,"c":0.24},{"s":10,"f":1.5,"c":0.35},{"s":10,"f":1.6,"c":0.1},{"s":10,"f":1.7,"c":0.19},{"s":10,"f":1.8,"c":0.05},{"s":10,"f":1.9,"c":0.28},{"s":10,"f":2,"c":0.13},
{"s":10,"f":2.1,"c":0.41},{"s":10,"f":2.2,"c":0.09},{"s":10,"f":2.3,"c":0.23},{"s":10,"f":2.4,"c":0.14},{"s":10,"f":2.5,"c":0.37},{"s":10,"f":2.6,"c":0.06},{"s":10,"f":2.7,"c":0.3},{"s":10,"f":2.8,"c":0.18},{"s":10,"f":2.9,"c":0.08},{"s":10,"f":3,"c":0.25},
{"s":10,"f":3.1,"c":0.07},{"s":10,"f":3.2,"c":0.33},{"s":10,"f":3.3,"c":0.15},{"s":10,"f":3.4,"c":0.49},{"s":10,"f":3.5,"c":0.1},{"s":10,"f":3.6,"c":0.27},{"s":10,"f":3.7,"c":0.05},{"s":10,"f":3.8,"c":0.36},{"s":10,"f":3.9,"c":0.18},{"s":10,"f":4,"c":0.43},
{"s":10,"f":4.1,"c":0.22},{"s":10,"f":4.2,"c":0.12},{"s":10,"f":4.3,"c":0.4},{"s":10,"f":4.4,"c":0.06},{"s":10,"f":4.5,"c":0.29},{"s":10,"f":4.6,"c":0.54},{"s":10,"f":4.7,"c":0.09},{"s":10,"f":4.8,"c":0.21},{"s":10,"f":4.9,"c":0.35},{"s":10,"f":5,"c":0.07},
{"s":10,"f":5.1,"c":0.44},{"s":10,"f":5.2,"c":0.16},{"s":10,"f":5.3,"c":0.08},{"s":10,"f":5.4,"c":0.33},{"s":10,"f":5.5,"c":0.24},{"s":10,"f":5.6,"c":0.55},{"s":10,"f":5.7,"c":0.11},{"s":10,"f":5.8,"c":0.38},{"s":10,"f":5.9,"c":0.06},{"s":10,"f":6,"c":0.27},
{"s":10,"f":6.1,"c":0.09},{"s":10,"f":6.2,"c":0.36},{"s":10,"f":6.3,"c":0.23},{"s":10,"f":6.4,"c":0.48},{"s":10,"f":6.5,"c":0.07},{"s":10,"f":6.6,"c":0.3},{"s":10,"f":6.7,"c":0.15},{"s":10,"f":6.8,"c":0.42},{"s":10,"f":6.9,"c":0.25},{"s":10,"f":7,"c":0.11},
{"s":10,"f":7.1,"c":0.45},{"s":10,"f":7.2,"c":0.08},{"s":10,"f":7.3,"c":0.34},{"s":10,"f":7.4,"c":0.19},{"s":10,"f":7.5,"c":0.58},{"s":10,"f":7.6,"c":0.12},{"s":10,"f":7.7,"c":0.3},{"s":10,"f":7.8,"c":0.07},{"s":10,"f":7.9,"c":0.4},{"s":10,"f":8,"c":0.22},
{"s":10,"f":8.1,"c":0.17},{"s":10,"f":8.2,"c":0.49},{"s":10,"f":8.3,"c":0.1},{"s":10,"f":8.4,"c":0.36},{"s":10,"f":8.5,"c":0.06},{"s":10,"f":8.6,"c":0.27},{"s":10,"f":8.7,"c":0.57},{"s":10,"f":8.8,"c":0.13},{"s":10,"f":8.9,"c":0.31},{"s":10,"f":9,"c":0.09},
{"s":10,"f":9.1,"c":0.38},{"s":10,"f":9.2,"c":0.2},{"s":10,"f":9.3,"c":0.52},{"s":10,"f":9.4,"c":0.07},{"s":10,"f":9.5,"c":0.33},{"s":10,"f":9.6,"c":0.15},{"s":10,"f":9.7,"c":0.46},{"s":10,"f":9.8,"c":0.09},{"s":10,"f":9.9,"c":0.29},{"s":10,"f":10,"c":0.12},

{"s":11,"f":0.05,"c":1},{"s":11,"f":0.1,"c":1},{"s":11,"f":0.2,"c":0.3},{"s":11,"f":0.3,"c":0.41},{"s":11,"f":0.4,"c":0.48},{"s":11,"f":0.5,"c":0.4},{"s":11,"f":0.6,"c":0.14},{"s":11,"f":0.7,"c":0.06},{"s":11,"f":0.8,"c":0.13},{"s":11,"f":0.9,"c":0.03},{"s":11,"f":1,"c":0.16},
{"s":11,"f":1.1,"c":0.11},{"s":11,"f":1.2,"c":0.27},{"s":11,"f":1.3,"c":0.4},{"s":11,"f":1.4,"c":0.15},{"s":11,"f":1.5,"c":0.07},{"s":11,"f":1.6,"c":0.33},{"s":11,"f":1.7,"c":0.22},{"s":11,"f":1.8,"c":0.45},{"s":11,"f":1.9,"c":0.12},{"s":11,"f":2,"c":0.06},
{"s":11,"f":2.1,"c":0.2},{"s":11,"f":2.2,"c":0.35},{"s":11,"f":2.3,"c":0.07},{"s":11,"f":2.4,"c":0.28},{"s":11,"f":2.5,"c":0.11},{"s":11,"f":2.6,"c":0.42},{"s":11,"f":2.7,"c":0.17},{"s":11,"f":2.8,"c":0.05},{"s":11,"f":2.9,"c":0.33},{"s":11,"f":3,"c":0.21},
{"s":11,"f":3.1,"c":0.38},{"s":11,"f":3.2,"c":0.1},{"s":11,"f":3.3,"c":0.27},{"s":11,"f":3.4,"c":0.44},{"s":11,"f":3.5,"c":0.14},{"s":11,"f":3.6,"c":0.35},{"s":11,"f":3.7,"c":0.08},{"s":11,"f":3.8,"c":0.25},{"s":11,"f":3.9,"c":0.47},{"s":11,"f":4,"c":0.11},
{"s":11,"f":4.1,"c":0.29},{"s":11,"f":4.2,"c":0.52},{"s":11,"f":4.3,"c":0.13},{"s":11,"f":4.4,"c":0.37},{"s":11,"f":4.5,"c":0.08},{"s":11,"f":4.6,"c":0.24},{"s":11,"f":4.7,"c":0.46},{"s":11,"f":4.8,"c":0.16},{"s":11,"f":4.9,"c":0.33},{"s":11,"f":5,"c":0.58},
{"s":11,"f":5.1,"c":0.12},{"s":11,"f":5.2,"c":0.4},{"s":11,"f":5.3,"c":0.27},{"s":11,"f":5.4,"c":0.07},{"s":11,"f":5.5,"c":0.51},{"s":11,"f":5.6,"c":0.19},{"s":11,"f":5.7,"c":0.36},{"s":11,"f":5.8,"c":0.57},{"s":11,"f":5.9,"c":0.14},{"s":11,"f":6,"c":0.42},
{"s":11,"f":6.1,"c":0.25},{"s":11,"f":6.2,"c":0.09},{"s":11,"f":6.3,"c":0.53},{"s":11,"f":6.4,"c":0.31},{"s":11,"f":6.5,"c":0.18},{"s":11,"f":6.6,"c":0.44},{"s":11,"f":6.7,"c":0.08},{"s":11,"f":6.8,"c":0.37},{"s":11,"f":6.9,"c":0.61},{"s":11,"f":7,"c":0.15},
{"s":11,"f":7.1,"c":0.3},{"s":11,"f":7.2,"c":0.54},{"s":11,"f":7.3,"c":0.11},{"s":11,"f":7.4,"c":0.39},{"s":11,"f":7.5,"c":0.21},{"s":11,"f":7.6,"c":0.47},{"s":11,"f":7.7,"c":0.09},{"s":11,"f":7.8,"c":0.35},{"s":11,"f":7.9,"c":0.26},{"s":11,"f":8,"c":0.55},
{"s":11,"f":8.1,"c":0.43},{"s":11,"f":8.2,"c":0.14},{"s":11,"f":8.3,"c":0.32},{"s":11,"f":8.4,"c":0.6},{"s":11,"f":8.5,"c":0.2},{"s":11,"f":8.6,"c":0.08},{"s":11,"f":8.7,"c":0.46},{"s":11,"f":8.8,"c":0.25},{"s":11,"f":8.9,"c":0.38},{"s":11,"f":9,"c":0.13},
{"s":11,"f":9.1,"c":0.22},{"s":11,"f":9.2,"c":0.47},{"s":11,"f":9.3,"c":0.15},{"s":11,"f":9.4,"c":0.36},{"s":11,"f":9.5,"c":0.1},{"s":11,"f":9.6,"c":0.53},{"s":11,"f":9.7,"c":0.28},{"s":11,"f":9.8,"c":0.18},{"s":11,"f":9.9,"c":0.44},{"s":11,"f":10,"c":0.24},

{"s":12,"f":0.05,"c":1},{"s":12,"f":0.1,"c":1},{"s":12,"f":0.2,"c":0.866},{"s":12,"f":0.3,"c":0.716},{"s":12,"f":0.4,"c":0.45},{"s":12,"f":0.5,"c":0.22},{"s":12,"f":0.6,"c":0.12},{"s":12,"f":0.7,"c":0.1},{"s":12,"f":0.8,"c":0.07},{"s":12,"f":0.9,"c":0.18},{"s":12,"f":1,"c":0.12},
{"s":12,"f":1.1,"c":0.08},{"s":12,"f":1.2,"c":0.2},{"s":12,"f":1.3,"c":0.34},{"s":12,"f":1.4,"c":0.12},{"s":12,"f":1.5,"c":0.47},{"s":12,"f":1.6,"c":0.22},{"s":12,"f":1.7,"c":0.09},{"s":12,"f":1.8,"c":0.36},{"s":12,"f":1.9,"c":0.25},{"s":12,"f":2,"c":0.1},
{"s":12,"f":2.1,"c":0.32},{"s":12,"f":2.2,"c":0.14},{"s":12,"f":2.3,"c":0.05},{"s":12,"f":2.4,"c":0.38},{"s":12,"f":2.5,"c":0.21},{"s":12,"f":2.6,"c":0.12},{"s":12,"f":2.7,"c":0.46},{"s":12,"f":2.8,"c":0.08},{"s":12,"f":2.9,"c":0.29},{"s":12,"f":3,"c":0.36},
{"s":12,"f":3.1,"c":0.16},{"s":12,"f":3.2,"c":0.44},{"s":12,"f":3.3,"c":0.23},{"s":12,"f":3.4,"c":0.09},{"s":12,"f":3.5,"c":0.34},{"s":12,"f":3.6,"c":0.52},{"s":12,"f":3.7,"c":0.12},{"s":12,"f":3.8,"c":0.3},{"s":12,"f":3.9,"c":0.07},{"s":12,"f":4,"c":0.41},
{"s":12,"f":4.1,"c":0.5},{"s":12,"f":4.2,"c":0.18},{"s":12,"f":4.3,"c":0.32},{"s":12,"f":4.4,"c":0.11},{"s":12,"f":4.5,"c":0.45},{"s":12,"f":4.6,"c":0.26},{"s":12,"f":4.7,"c":0.55},{"s":12,"f":4.8,"c":0.1},{"s":12,"f":4.9,"c":0.39},{"s":12,"f":5,"c":0.21},
{"s":12,"f":5.1,"c":0.33},{"s":12,"f":5.2,"c":0.53},{"s":12,"f":5.3,"c":0.09},{"s":12,"f":5.4,"c":0.41},{"s":12,"f":5.5,"c":0.16},{"s":12,"f":5.6,"c":0.3},{"s":12,"f":5.7,"c":0.06},{"s":12,"f":5.8,"c":0.48},{"s":12,"f":5.9,"c":0.25},{"s":12,"f":6,"c":0.57},
{"s":12,"f":6.1,"c":0.19},{"s":12,"f":6.2,"c":0.41},{"s":12,"f":6.3,"c":0.28},{"s":12,"f":6.4,"c":0.08},{"s":12,"f":6.5,"c":0.54},{"s":12,"f":6.6,"c":0.21},{"s":12,"f":6.7,"c":0.47},{"s":12,"f":6.8,"c":0.12},{"s":12,"f":6.9,"c":0.33},{"s":12,"f":7,"c":0.58},
{"s":12,"f":7.1,"c":0.13},{"s":12,"f":7.2,"c":0.36},{"s":12,"f":7.3,"c":0.62},{"s":12,"f":7.4,"c":0.24},{"s":12,"f":7.5,"c":0.44},{"s":12,"f":7.6,"c":0.1},{"s":12,"f":7.7,"c":0.57},{"s":12,"f":7.8,"c":0.3},{"s":12,"f":7.9,"c":0.16},{"s":12,"f":8,"c":0.49},
{"s":12,"f":8.1,"c":0.35},{"s":12,"f":8.2,"c":0.21},{"s":12,"f":8.3,"c":0.52},{"s":12,"f":8.4,"c":0.09},{"s":12,"f":8.5,"c":0.4},{"s":12,"f":8.6,"c":0.64},{"s":12,"f":8.7,"c":0.15},{"s":12,"f":8.8,"c":0.31},{"s":12,"f":8.9,"c":0.56},{"s":12,"f":9,"c":0.22},
{"s":12,"f":9.1,"c":0.46},{"s":12,"f":9.2,"c":0.13},{"s":12,"f":9.3,"c":0.39},{"s":12,"f":9.4,"c":0.58},{"s":12,"f":9.5,"c":0.2},{"s":12,"f":9.6,"c":0.34},{"s":12,"f":9.7,"c":0.61},{"s":12,"f":9.8,"c":0.11},{"s":12,"f":9.9,"c":0.43},{"s":12,"f":10,"c":0.26},

{"s":13,"f":0.05,"c":1},{"s":13,"f":0.1,"c":1},{"s":13,"f":0.2,"c":0.928},{"s":13,"f":0.3,"c":0.866},{"s":13,"f":0.4,"c":0.6},{"s":13,"f":0.5,"c":0.928},{"s":13,"f":0.6,"c":0.887},{"s":13,"f":0.7,"c":0.8},{"s":13,"f":0.8,"c":0.46},{"s":13,"f":0.9,"c":0.44},{"s":13,"f":1,"c":0.58},
{"s":13,"f":1.1,"c":0.35},{"s":13,"f":1.2,"c":0.18},{"s":13,"f":1.3,"c":0.1},{"s":13,"f":1.4,"c":0.28},{"s":13,"f":1.5,"c":0.44},{"s":13,"f":1.6,"c":0.15},{"s":13,"f":1.7,"c":0.06},{"s":13,"f":1.8,"c":0.25},{"s":13,"f":1.9,"c":0.12},{"s":13,"f":2,"c":0.33},
{"s":13,"f":2.1,"c":0.09},{"s":13,"f":2.2,"c":0.27},{"s":13,"f":2.3,"c":0.41},{"s":13,"f":2.4,"c":0.16},{"s":13,"f":2.5,"c":0.52},{"s":13,"f":2.6,"c":0.2},{"s":13,"f":2.7,"c":0.11},{"s":13,"f":2.8,"c":0.37},{"s":13,"f":2.9,"c":0.24},{"s":13,"f":3,"c":0.08},
{"s":13,"f":3.1,"c":0.3},{"s":13,"f":3.2,"c":0.19},{"s":13,"f":3.3,"c":0.45},{"s":13,"f":3.4,"c":0.26},{"s":13,"f":3.5,"c":0.61},{"s":13,"f":3.6,"c":0.14},{"s":13,"f":3.7,"c":0.33},{"s":13,"f":3.8,"c":0.1},{"s":13,"f":3.9,"c":0.38},{"s":13,"f":4,"c":0.22},
{"s":13,"f":4.1,"c":0.15},{"s":13,"f":4.2,"c":0.43},{"s":13,"f":4.3,"c":0.29},{"s":13,"f":4.4,"c":0.54},{"s":13,"f":4.5,"c":0.19},{"s":13,"f":4.6,"c":0.36},{"s":13,"f":4.7,"c":0.12},{"s":13,"f":4.8,"c":0.47},{"s":13,"f":4.9,"c":0.24},{"s":13,"f":5,"c":0.49},
{"s":13,"f":5.1,"c":0.27},{"s":13,"f":5.2,"c":0.14},{"s":13,"f":5.3,"c":0.5},{"s":13,"f":5.4,"c":0.31},{"s":13,"f":5.5,"c":0.53},{"s":13,"f":5.6,"c":0.18},{"s":13,"f":5.7,"c":0.42},{"s":13,"f":5.8,"c":0.26},{"s":13,"f":5.9,"c":0.55},{"s":13,"f":6,"c":0.2},
{"s":13,"f":6.1,"c":0.48},{"s":13,"f":6.2,"c":0.3},{"s":13,"f":6.3,"c":0.17},{"s":13,"f":6.4,"c":0.56},{"s":13,"f":6.5,"c":0.24},{"s":13,"f":6.6,"c":0.4},{"s":13,"f":6.7,"c":0.61},{"s":13,"f":6.8,"c":0.19},{"s":13,"f":6.9,"c":0.45},{"s":13,"f":7,"c":0.28},
{"s":13,"f":7.1,"c":0.36},{"s":13,"f":7.2,"c":0.76},{"s":13,"f":7.3,"c":0.22},{"s":13,"f":7.4,"c":0.5},{"s":13,"f":7.5,"c":0.31},{"s":13,"f":7.6,"c":0.63},{"s":13,"f":7.7,"c":0.18},{"s":13,"f":7.8,"c":0.44},{"s":13,"f":7.9,"c":0.28},{"s":13,"f":8,"c":0.75},
{"s":13,"f":8.1,"c":0.21},{"s":13,"f":8.2,"c":0.47},{"s":13,"f":8.3,"c":0.33},{"s":13,"f":8.4,"c":0.79},{"s":13,"f":8.5,"c":0.25},{"s":13,"f":8.6,"c":0.52},{"s":13,"f":8.7,"c":0.16},{"s":13,"f":8.8,"c":0.68},{"s":13,"f":8.9,"c":0.3},{"s":13,"f":9,"c":0.4},
{"s":13,"f":9.1,"c":0.55},{"s":13,"f":9.2,"c":0.27},{"s":13,"f":9.3,"c":0.46},{"s":13,"f":9.4,"c":0.84},{"s":13,"f":9.5,"c":0.35},{"s":13,"f":9.6,"c":0.6},{"s":13,"f":9.7,"c":0.24},{"s":13,"f":9.8,"c":0.77},{"s":13,"f":9.9,"c":0.5},{"s":13,"f":10,"c":0.73},

{"s":14,"f":0.05,"c":1},{"s":14,"f":0.1,"c":1},{"s":14,"f":0.2,"c":0.955},{"s":14,"f":0.3,"c":0.955},{"s":14,"f":0.4,"c":0.806},{"s":14,"f":0.5,"c":0.852},{"s":14,"f":0.6,"c":0.82},{"s":14,"f":0.7,"c":0.61},{"s":14,"f":0.8,"c":0.54},{"s":14,"f":0.9,"c":0.7},{"s":14,"f":1,"c":0.68},
{"s":14,"f":1.1,"c":0.59},{"s":14,"f":1.2,"c":0.48},{"s":14,"f":1.3,"c":0.14},{"s":14,"f":1.4,"c":0.22},{"s":14,"f":1.5,"c":0.09},{"s":14,"f":1.6,"c":0.31},{"s":14,"f":1.7,"c":0.18},{"s":14,"f":1.8,"c":0.41},{"s":14,"f":1.9,"c":0.07},{"s":14,"f":2,"c":0.26},
{"s":14,"f":2.1,"c":0.16},{"s":14,"f":2.2,"c":0.34},{"s":14,"f":2.3,"c":0.1},{"s":14,"f":2.4,"c":0.45},{"s":14,"f":2.5,"c":0.28},{"s":14,"f":2.6,"c":0.13},{"s":14,"f":2.7,"c":0.5},{"s":14,"f":2.8,"c":0.21},{"s":14,"f":2.9,"c":0.36},{"s":14,"f":3,"c":0.12},
{"s":14,"f":3.1,"c":0.27},{"s":14,"f":3.2,"c":0.48},{"s":14,"f":3.3,"c":0.11},{"s":14,"f":3.4,"c":0.35},{"s":14,"f":3.5,"c":0.2},{"s":14,"f":3.6,"c":0.44},{"s":14,"f":3.7,"c":0.58},{"s":14,"f":3.8,"c":0.17},{"s":14,"f":3.9,"c":0.31},{"s":14,"f":4,"c":0.09},
{"s":14,"f":4.1,"c":0.38},{"s":14,"f":4.2,"c":0.22},{"s":14,"f":4.3,"c":0.51},{"s":14,"f":4.4,"c":0.14},{"s":14,"f":4.5,"c":0.33},{"s":14,"f":4.6,"c":0.47},{"s":14,"f":4.7,"c":0.2},{"s":14,"f":4.8,"c":0.41},{"s":14,"f":4.9,"c":0.55},{"s":14,"f":5,"c":0.18},
{"s":14,"f":5.1,"c":0.46},{"s":14,"f":5.2,"c":0.25},{"s":14,"f":5.3,"c":0.36},{"s":14,"f":5.4,"c":0.58},{"s":14,"f":5.5,"c":0.13},{"s":14,"f":5.6,"c":0.43},{"s":14,"f":5.7,"c":0.29},{"s":14,"f":5.8,"c":0.51},{"s":14,"f":5.9,"c":0.17},{"s":14,"f":6,"c":0.39},
{"s":14,"f":6.1,"c":0.26},{"s":14,"f":6.2,"c":0.52},{"s":14,"f":6.3,"c":0.37},{"s":14,"f":6.4,"c":0.15},{"s":14,"f":6.5,"c":0.48},{"s":14,"f":6.6,"c":0.32},{"s":14,"f":6.7,"c":0.57},{"s":14,"f":6.8,"c":0.23},{"s":14,"f":6.9,"c":0.4},{"s":14,"f":7,"c":0.5},
{"s":14,"f":7.1,"c":0.28},{"s":14,"f":7.2,"c":0.45},{"s":14,"f":7.3,"c":0.55},{"s":14,"f":7.4,"c":0.19},{"s":14,"f":7.5,"c":0.73},{"s":14,"f":7.6,"c":0.35},{"s":14,"f":7.7,"c":0.49},{"s":14,"f":7.8,"c":0.22},{"s":14,"f":7.9,"c":0.61},{"s":14,"f":8,"c":0.33},
{"s":14,"f":8.1,"c":0.52},{"s":14,"f":8.2,"c":0.3},{"s":14,"f":8.3,"c":0.63},{"s":14,"f":8.4,"c":0.24},{"s":14,"f":8.5,"c":0.44},{"s":14,"f":8.6,"c":0.7},{"s":14,"f":8.7,"c":0.19},{"s":14,"f":8.8,"c":0.48},{"s":14,"f":8.9,"c":0.36},{"s":14,"f":9,"c":0.58},
{"s":14,"f":9.1,"c":0.3},{"s":14,"f":9.2,"c":0.56},{"s":14,"f":9.3,"c":0.21},{"s":14,"f":9.4,"c":0.65},{"s":14,"f":9.5,"c":0.42},{"s":14,"f":9.6,"c":0.5},{"s":14,"f":9.7,"c":0.28},{"s":14,"f":9.8,"c":0.62},{"s":14,"f":9.9,"c":0.37},{"s":14,"f":10,"c":0.54},

{"s":15,"f":0.05,"c":1},{"s":15,"f":0.1,"c":1},{"s":15,"f":0.2,"c":1},{"s":15,"f":0.5,"c":1},{"s":15,"f":1,"c":1},{"s":15,"f":2,"c":1},{"s":15,"f":5,"c":1},{"s":15,"f":10,"c":1},

{"s":16,"f":0.05,"c":1},{"s":16,"f":0.1,"c":1},{"s":16,"f":0.2,"c":0.84},{"s":16,"f":0.3,"c":0.866},{"s":16,"f":0.4,"c":0.08},{"s":16,"f":0.5,"c":0.54},{"s":16,"f":0.6,"c":0.45},{"s":16,"f":0.7,"c":0.4},{"s":16,"f":0.8,"c":0.06},{"s":16,"f":0.9,"c":0.3},{"s":16,"f":1,"c":0.35},
{"s":16,"f":1.1,"c":0.22},{"s":16,"f":1.2,"c":0.38},{"s":16,"f":1.3,"c":0.3},{"s":16,"f":1.4,"c":0.6},{"s":16,"f":1.5,"c":0.25},{"s":16,"f":1.6,"c":0.13},{"s":16,"f":1.7,"c":0.2},{"s":16,"f":1.8,"c":0.08},{"s":16,"f":1.9,"c":0.28},{"s":16,"f":2,"c":0.16},
{"s":16,"f":2.1,"c":0.64},{"s":16,"f":2.2,"c":0.77},{"s":16,"f":2.3,"c":0.55},{"s":16,"f":2.4,"c":0.3},{"s":16,"f":2.5,"c":0.12},{"s":16,"f":2.6,"c":0.24},{"s":16,"f":2.7,"c":0.41},{"s":16,"f":2.8,"c":0.18},{"s":16,"f":2.9,"c":0.09},{"s":16,"f":3,"c":0.33},
{"s":16,"f":3.1,"c":0.21},{"s":16,"f":3.2,"c":0.43},{"s":16,"f":3.3,"c":0.14},{"s":16,"f":3.4,"c":0.35},{"s":16,"f":3.5,"c":0.08},{"s":16,"f":3.6,"c":0.27},{"s":16,"f":3.7,"c":0.49},{"s":16,"f":3.8,"c":0.19},{"s":16,"f":3.9,"c":0.32},{"s":16,"f":4,"c":0.11},
{"s":16,"f":4.1,"c":0.4},{"s":16,"f":4.2,"c":0.16},{"s":16,"f":4.3,"c":0.29},{"s":16,"f":4.4,"c":0.52},{"s":16,"f":4.5,"c":0.1},{"s":16,"f":4.6,"c":0.37},{"s":16,"f":4.7,"c":0.23},{"s":16,"f":4.8,"c":0.46},{"s":16,"f":4.9,"c":0.15},{"s":16,"f":5,"c":0.34},
{"s":16,"f":5.1,"c":0.2},{"s":16,"f":5.2,"c":0.49},{"s":16,"f":5.3,"c":0.13},{"s":16,"f":5.4,"c":0.38},{"s":16,"f":5.5,"c":0.27},{"s":16,"f":5.6,"c":0.54},{"s":16,"f":5.7,"c":0.09},{"s":16,"f":5.8,"c":0.33},{"s":16,"f":5.9,"c":0.45},{"s":16,"f":6,"c":0.18},
{"s":16,"f":6.1,"c":0.42},{"s":16,"f":6.2,"c":0.21},{"s":16,"f":6.3,"c":0.5},{"s":16,"f":6.4,"c":0.12},{"s":16,"f":6.5,"c":0.36},{"s":16,"f":6.6,"c":0.27},{"s":16,"f":6.7,"c":0.53},{"s":16,"f":6.8,"c":0.16},{"s":16,"f":6.9,"c":0.39},{"s":16,"f":7,"c":0.24},
{"s":16,"f":7.1,"c":0.14},{"s":16,"f":7.2,"c":0.47},{"s":16,"f":7.3,"c":0.29},{"s":16,"f":7.4,"c":0.58},{"s":16,"f":7.5,"c":0.2},{"s":16,"f":7.6,"c":0.41},{"s":16,"f":7.7,"c":0.11},{"s":16,"f":7.8,"c":0.35},{"s":16,"f":7.9,"c":0.52},{"s":16,"f":8,"c":0.26},
{"s":16,"f":8.1,"c":0.44},{"s":16,"f":8.2,"c":0.18},{"s":16,"f":8.3,"c":0.37},{"s":16,"f":8.4,"c":0.55},{"s":16,"f":8.5,"c":0.12},{"s":16,"f":8.6,"c":0.3},{"s":16,"f":8.7,"c":0.49},{"s":16,"f":8.8,"c":0.22},{"s":16,"f":8.9,"c":0.41},{"s":16,"f":9,"c":0.6},
{"s":16,"f":9.1,"c":0.25},{"s":16,"f":9.2,"c":0.43},{"s":16,"f":9.3,"c":0.16},{"s":16,"f":9.4,"c":0.51},{"s":16,"f":9.5,"c":0.34},{"s":16,"f":9.6,"c":0.77},{"s":16,"f":9.7,"c":0.2},{"s":16,"f":9.8,"c":0.47},{"s":16,"f":9.9,"c":0.7},{"s":16,"f":10,"c":0.38},

{"s":17,"f":0.05,"c":1},{"s":17,"f":0.1,"c":1},{"s":17,"f":0.2,"c":0.21},{"s":17,"f":0.3,"c":0.21},{"s":17,"f":0.4,"c":0.05},{"s":17,"f":0.5,"c":0.7},{"s":17,"f":0.6,"c":0.5},{"s":17,"f":0.7,"c":0.3},{"s":17,"f":0.8,"c":0.1},{"s":17,"f":0.9,"c":0.28},{"s":17,"f":1,"c":0.16},
{"s":17,"f":1.1,"c":0.1},{"s":17,"f":1.2,"c":0.26},{"s":17,"f":1.3,"c":0.12},{"s":17,"f":1.4,"c":0.05},{"s":17,"f":1.5,"c":0.19},{"s":17,"f":1.6,"c":0.08},{"s":17,"f":1.7,"c":0.3},{"s":17,"f":1.8,"c":0.14},{"s":17,"f":1.9,"c":0.06},{"s":17,"f":2,"c":0.22},
{"s":17,"f":2.1,"c":0.13},{"s":17,"f":2.2,"c":0.07},{"s":17,"f":2.3,"c":0.28},{"s":17,"f":2.4,"c":0.11},{"s":17,"f":2.5,"c":0.19},{"s":17,"f":2.6,"c":0.35},{"s":17,"f":2.7,"c":0.09},{"s":17,"f":2.8,"c":0.24},{"s":17,"f":2.9,"c":0.15},{"s":17,"f":3,"c":0.31},
{"s":17,"f":3.1,"c":0.08},{"s":17,"f":3.2,"c":0.21},{"s":17,"f":3.3,"c":0.38},{"s":17,"f":3.4,"c":0.12},{"s":17,"f":3.5,"c":0.27},{"s":17,"f":3.6,"c":0.06},{"s":17,"f":3.7,"c":0.33},{"s":17,"f":3.8,"c":0.18},{"s":17,"f":3.9,"c":0.42},{"s":17,"f":4,"c":0.1},
{"s":17,"f":4.1,"c":0.25},{"s":17,"f":4.2,"c":0.36},{"s":17,"f":4.3,"c":0.09},{"s":17,"f":4.4,"c":0.3},{"s":17,"f":4.5,"c":0.17},{"s":17,"f":4.6,"c":0.44},{"s":17,"f":4.7,"c":0.11},{"s":17,"f":4.8,"c":0.28},{"s":17,"f":4.9,"c":0.07},{"s":17,"f":5,"c":0.39},
{"s":17,"f":5.1,"c":0.15},{"s":17,"f":5.2,"c":0.32},{"s":17,"f":5.3,"c":0.22},{"s":17,"f":5.4,"c":0.06},{"s":17,"f":5.5,"c":0.41},{"s":17,"f":5.6,"c":0.19},{"s":17,"f":5.7,"c":0.29},{"s":17,"f":5.8,"c":0.12},{"s":17,"f":5.9,"c":0.36},{"s":17,"f":6,"c":0.24},
{"s":17,"f":6.1,"c":0.33},{"s":17,"f":6.2,"c":0.1},{"s":17,"f":6.3,"c":0.27},{"s":17,"f":6.4,"c":0.45},{"s":17,"f":6.5,"c":0.16},{"s":17,"f":6.6,"c":0.08},{"s":17,"f":6.7,"c":0.38},{"s":17,"f":6.8,"c":0.21},{"s":17,"f":6.9,"c":0.3},{"s":17,"f":7,"c":0.12},
{"s":17,"f":7.1,"c":0.23},{"s":17,"f":7.2,"c":0.39},{"s":17,"f":7.3,"c":0.14},{"s":17,"f":7.4,"c":0.31},{"s":17,"f":7.5,"c":0.07},{"s":17,"f":7.6,"c":0.48},{"s":17,"f":7.7,"c":0.19},{"s":17,"f":7.8,"c":0.34},{"s":17,"f":7.9,"c":0.11},{"s":17,"f":8,"c":0.4},
{"s":17,"f":8.1,"c":0.09},{"s":17,"f":8.2,"c":0.29},{"s":17,"f":8.3,"c":0.43},{"s":17,"f":8.4,"c":0.15},{"s":17,"f":8.5,"c":0.36},{"s":17,"f":8.6,"c":0.21},{"s":17,"f":8.7,"c":0.05},{"s":17,"f":8.8,"c":0.39},{"s":17,"f":8.9,"c":0.26},{"s":17,"f":9,"c":0.33},
{"s":17,"f":9.1,"c":0.37},{"s":17,"f":9.2,"c":0.14},{"s":17,"f":9.3,"c":0.28},{"s":17,"f":9.4,"c":0.08},{"s":17,"f":9.5,"c":0.45},{"s":17,"f":9.6,"c":0.23},{"s":17,"f":9.7,"c":0.35},{"s":17,"f":9.8,"c":0.12},{"s":17,"f":9.9,"c":0.31},{"s":17,"f":10,"c":0.2},

{"s":18,"f":0.05,"c":1},{"s":18,"f":0.1,"c":1},{"s":18,"f":0.2,"c":0.47},{"s":18,"f":0.3,"c":0.48},{"s":18,"f":0.4,"c":0.07},{"s":18,"f":0.5,"c":0.8},{"s":18,"f":0.6,"c":0.6},{"s":18,"f":0.7,"c":0.38},{"s":18,"f":0.8,"c":0.06},{"s":18,"f":0.9,"c":0.38},{"s":18,"f":1,"c":0.12},
{"s":18,"f":1.1,"c":0.18},{"s":18,"f":1.2,"c":0.07},{"s":18,"f":1.3,"c":0.22},{"s":18,"f":1.4,"c":0.11},{"s":18,"f":1.5,"c":0.04},{"s":18,"f":1.6,"c":0.16},{"s":18,"f":1.7,"c":0.27},{"s":18,"f":1.8,"c":0.09},{"s":18,"f":1.9,"c":0.05},{"s":18,"f":2,"c":0.13},
{"s":18,"f":2.1,"c":0.25},{"s":18,"f":2.2,"c":0.1},{"s":18,"f":2.3,"c":0.06},{"s":18,"f":2.4,"c":0.2},{"s":18,"f":2.5,"c":0.14},{"s":18,"f":2.6,"c":0.08},{"s":18,"f":2.7,"c":0.3},{"s":18,"f":2.8,"c":0.12},{"s":18,"f":2.9,"c":0.22},{"s":18,"f":3,"c":0.07},
{"s":18,"f":3.1,"c":0.16},{"s":18,"f":3.2,"c":0.29},{"s":18,"f":3.3,"c":0.1},{"s":18,"f":3.4,"c":0.05},{"s":18,"f":3.5,"c":0.24},{"s":18,"f":3.6,"c":0.36},{"s":18,"f":3.7,"c":0.13},{"s":18,"f":3.8,"c":0.07},{"s":18,"f":3.9,"c":0.2},{"s":18,"f":4,"c":0.31},
{"s":18,"f":4.1,"c":0.12},{"s":18,"f":4.2,"c":0.06},{"s":18,"f":4.3,"c":0.27},{"s":18,"f":4.4,"c":0.19},{"s":18,"f":4.5,"c":0.34},{"s":18,"f":4.6,"c":0.09},{"s":18,"f":4.7,"c":0.23},{"s":18,"f":4.8,"c":0.38},{"s":18,"f":4.9,"c":0.14},{"s":18,"f":5,"c":0.05},
{"s":18,"f":5.1,"c":0.3},{"s":18,"f":5.2,"c":0.18},{"s":18,"f":5.3,"c":0.08},{"s":18,"f":5.4,"c":0.25},{"s":18,"f":5.5,"c":0.13},{"s":18,"f":5.6,"c":0.35},{"s":18,"f":5.7,"c":0.21},{"s":18,"f":5.8,"c":0.07},{"s":18,"f":5.9,"c":0.28},{"s":18,"f":6,"c":0.4},
{"s":18,"f":6.1,"c":0.11},{"s":18,"f":6.2,"c":0.24},{"s":18,"f":6.3,"c":0.37},{"s":18,"f":6.4,"c":0.09},{"s":18,"f":6.5,"c":0.22},{"s":18,"f":6.6,"c":0.31},{"s":18,"f":6.7,"c":0.06},{"s":18,"f":6.8,"c":0.27},{"s":18,"f":6.9,"c":0.15},{"s":18,"f":7,"c":0.34},
{"s":18,"f":7.1,"c":0.2},{"s":18,"f":7.2,"c":0.08},{"s":18,"f":7.3,"c":0.32},{"s":18,"f":7.4,"c":0.17},{"s":18,"f":7.5,"c":0.26},{"s":18,"f":7.6,"c":0.12},{"s":18,"f":7.7,"c":0.36},{"s":18,"f":7.8,"c":0.06},{"s":18,"f":7.9,"c":0.23},{"s":18,"f":8,"c":0.29},
{"s":18,"f":8.1,"c":0.35},{"s":18,"f":8.2,"c":0.13},{"s":18,"f":8.3,"c":0.22},{"s":18,"f":8.4,"c":0.3},{"s":18,"f":8.5,"c":0.07},{"s":18,"f":8.6,"c":0.41},{"s":18,"f":8.7,"c":0.18},{"s":18,"f":8.8,"c":0.26},{"s":18,"f":8.9,"c":0.1},{"s":18,"f":9,"c":0.24},
{"s":18,"f":9.1,"c":0.16},{"s":18,"f":9.2,"c":0.33},{"s":18,"f":9.3,"c":0.06},{"s":18,"f":9.4,"c":0.27},{"s":18,"f":9.5,"c":0.19},{"s":18,"f":9.6,"c":0.38},{"s":18,"f":9.7,"c":0.09},{"s":18,"f":9.8,"c":0.3},{"s":18,"f":9.9,"c":0.22},{"s":18,"f":10,"c":0.14},

{"s":19,"f":0.05,"c":1},{"s":19,"f":0.1,"c":1},{"s":19,"f":0.2,"c":0.107},{"s":19,"f":0.3,"c":0.065},{"s":19,"f":0.4,"c":0.09},{"s":19,"f":0.5,"c":0.54},{"s":19,"f":0.6,"c":0.45},{"s":19,"f":0.7,"c":0.38},{"s":19,"f":0.8,"c":0.07},{"s":19,"f":0.9,"c":0.3},{"s":19,"f":1,"c":0.2},
{"s":19,"f":1.1,"c":0.09},{"s":19,"f":1.2,"c":0.14},{"s":19,"f":1.3,"c":0.05},{"s":19,"f":1.4,"c":0.21},{"s":19,"f":1.5,"c":0.12},{"s":19,"f":1.6,"c":0.06},{"s":19,"f":1.7,"c":0.1},{"s":19,"f":1.8,"c":0.18},{"s":19,"f":1.9,"c":0.07},{"s":19,"f":2,"c":0.04},
{"s":19,"f":2.1,"c":0.12},{"s":19,"f":2.2,"c":0.06},{"s":19,"f":2.3,"c":0.19},{"s":19,"f":2.4,"c":0.09},{"s":19,"f":2.5,"c":0.26},{"s":19,"f":2.6,"c":0.13},{"s":19,"f":2.7,"c":0.05},{"s":19,"f":2.8,"c":0.17},{"s":19,"f":2.9,"c":0.11},{"s":19,"f":3,"c":0.2},
{"s":19,"f":3.1,"c":0.07},{"s":19,"f":3.2,"c":0.15},{"s":19,"f":3.3,"c":0.23},{"s":19,"f":3.4,"c":0.1},{"s":19,"f":3.5,"c":0.04},{"s":19,"f":3.6,"c":0.18},{"s":19,"f":3.7,"c":0.28},{"s":19,"f":3.8,"c":0.12},{"s":19,"f":3.9,"c":0.06},{"s":19,"f":4,"c":0.22},
{"s":19,"f":4.1,"c":0.29},{"s":19,"f":4.2,"c":0.11},{"s":19,"f":4.3,"c":0.17},{"s":19,"f":4.4,"c":0.06},{"s":19,"f":4.5,"c":0.25},{"s":19,"f":4.6,"c":0.14},{"s":19,"f":4.7,"c":0.33},{"s":19,"f":4.8,"c":0.08},{"s":19,"f":4.9,"c":0.21},{"s":19,"f":5,"c":0.12},
{"s":19,"f":5.1,"c":0.06},{"s":19,"f":5.2,"c":0.23},{"s":19,"f":5.3,"c":0.31},{"s":19,"f":5.4,"c":0.15},{"s":19,"f":5.5,"c":0.09},{"s":19,"f":5.6,"c":0.27},{"s":19,"f":5.7,"c":0.12},{"s":19,"f":5.8,"c":0.36},{"s":19,"f":5.9,"c":0.18},{"s":19,"f":6,"c":0.07},
{"s":19,"f":6.1,"c":0.24},{"s":19,"f":6.2,"c":0.14},{"s":19,"f":6.3,"c":0.08},{"s":19,"f":6.4,"c":0.32},{"s":19,"f":6.5,"c":0.19},{"s":19,"f":6.6,"c":0.11},{"s":19,"f":6.7,"c":0.28},{"s":19,"f":6.8,"c":0.05},{"s":19,"f":6.9,"c":0.35},{"s":19,"f":7,"c":0.2},
{"s":19,"f":7.1,"c":0.1},{"s":19,"f":7.2,"c":0.3},{"s":19,"f":7.3,"c":0.21},{"s":19,"f":7.4,"c":0.13},{"s":19,"f":7.5,"c":0.37},{"s":19,"f":7.6,"c":0.07},{"s":19,"f":7.7,"c":0.25},{"s":19,"f":7.8,"c":0.18},{"s":19,"f":7.9,"c":0.32},{"s":19,"f":8,"c":0.09},
{"s":19,"f":8.1,"c":0.26},{"s":19,"f":8.2,"c":0.08},{"s":19,"f":8.3,"c":0.34},{"s":19,"f":8.4,"c":0.19},{"s":19,"f":8.5,"c":0.13},{"s":19,"f":8.6,"c":0.29},{"s":19,"f":8.7,"c":0.38},{"s":19,"f":8.8,"c":0.11},{"s":19,"f":8.9,"c":0.22},{"s":19,"f":9,"c":0.31},
{"s":19,"f":9.1,"c":0.13},{"s":19,"f":9.2,"c":0.27},{"s":19,"f":9.3,"c":0.35},{"s":19,"f":9.4,"c":0.1},{"s":19,"f":9.5,"c":0.24},{"s":19,"f":9.6,"c":0.17},{"s":19,"f":9.7,"c":0.4},{"s":19,"f":9.8,"c":0.08},{"s":19,"f":9.9,"c":0.29},{"s":19,"f":10,"c":0.19}
  ]},
  "mark": {"type": "line", "clip": true, "strokeWidth": 1.8, "opacity": 0.95},
  "encoding": {
    "x": {
      "field": "f",
      "type": "quantitative",
      "scale": {"type": "log", "domain": [0.0794, 12.59], "nice": false},
      "axis": {
        "title": "frequency[Hz]",
        "titleFontSize": 18,
        "titleFontWeight": "normal",
        "titleColor": "#262626",
        "titlePadding": 8,
        "values": [0.08, 0.09, 0.1, 0.2, 0.3, 0.4, 0.5, 0.6, 0.7, 0.8, 0.9, 1, 2, 3, 4, 5, 6, 7, 8, 9, 10],
        "labelExpr": "datum.value == 0.1 ? '10⁻¹' : datum.value == 1 ? '10⁰' : datum.value == 10 ? '10¹' : ''",
        "labelFontSize": 14.5,
        "labelColor": "#262626",
        "labelPadding": 11,
        "labelFlush": false,
        "labelOverlap": false,
        "domain": false,
        "tickColor": "#555555",
        "tickSize": {"condition": {"test": "datum.value == 0.1 || datum.value == 1 || datum.value == 10", "value": 6}, "value": 3},
        "grid": true,
        "gridColor": "#d9d9d9",
        "gridOpacity": {"condition": {"test": "datum.value == 0.1 || datum.value == 1 || datum.value == 10", "value": 1}, "value": 0}
      }
    },
    "y": {
      "field": "c",
      "type": "quantitative",
      "scale": {"domain": [-0.05, 1.05], "nice": false, "zero": false},
      "axis": {
        "title": "coherence^2",
        "titleFontSize": 18,
        "titleFontWeight": "normal",
        "titleColor": "#262626",
        "titlePadding": 6,
        "values": [0, 0.2, 0.4, 0.6, 0.8, 1.0],
        "format": ".1f",
        "labelFontSize": 14.5,
        "labelColor": "#262626",
        "labelPadding": 6,
        "domain": false,
        "tickColor": "#555555",
        "tickSize": 3.5,
        "grid": true,
        "gridColor": "#d9d9d9"
      }
    },
    "color": {"field": "s", "type": "ordinal", "scale": {"scheme": "viridis"}, "legend": null}
  }
}
